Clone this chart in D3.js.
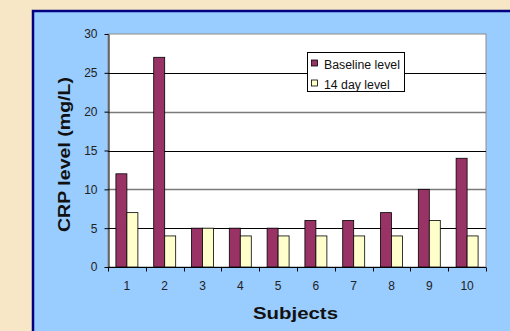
<!DOCTYPE html>
<html>
<head>
<meta charset="utf-8">
<script src="https://cdn.jsdelivr.net/npm/d3@7"></script>
<style>
  html, body { margin: 0; padding: 0; background: #f7e7c6; }
  svg { display: block; }
</style>
</head>
<body>
<svg id="chart" width="510" height="331"></svg>
<script>
// CRP levels per subject, at baseline and after 14 days
const subjects = ["1", "2", "3", "4", "5", "6", "7", "8", "9", "10"];
const baselineLevel = [12, 27, 5, 5, 5, 6, 6, 7, 10, 14];
const day14Level = [7, 4, 5, 4, 4, 4, 4, 4, 6, 4];
const seriesNames = ["Baseline level", "14 day level"];
const seriesColors = ["#993366", "#ffffcc"];
const yTicks = [0, 5, 10, 15, 20, 25, 30];

const FONT = "Liberation Sans, Arial, sans-serif";
const svg = d3.select("#chart");
const W = 510, H = 331;

// page and chart panel
svg.append("rect").attr("width", W).attr("height", H).attr("fill", "#f7e7c6");
svg.append("rect").attr("x", 33).attr("y", 11).attr("width", W).attr("height", H)
  .attr("fill", "#99ccff").attr("stroke", "#000080").attr("stroke-width", 2.5);

const plot = { left: 108, top: 34, right: 486, bottom: 267 };

const x0 = d3.scaleBand().domain(subjects).range([plot.left, plot.right]).paddingInner(0).paddingOuter(0);
const x1 = d3.scaleBand().domain([0, 1]).range([0, x0.bandwidth()]).paddingInner(0).paddingOuter(0.72);
const y = d3.scaleLinear().domain([0, 30]).range([plot.bottom, plot.top]);

// plot area
svg.append("rect")
  .attr("x", plot.left).attr("y", plot.top)
  .attr("width", plot.right - plot.left).attr("height", plot.bottom - plot.top)
  .attr("fill", "#ffffff").attr("stroke", "#8c8c8c").attr("stroke-width", 1);

// gridlines (the 10 and 20 lines print softer)
svg.append("g").selectAll("line").data(yTicks.filter(d => d > 0 && d < 30)).join("line")
  .attr("x1", plot.left).attr("x2", plot.right)
  .attr("y1", d => Math.round(y(d)) + 0.5).attr("y2", d => Math.round(y(d)) + 0.5)
  .attr("stroke", d => d % 10 === 0 ? "#7a7a7a" : "#000")
  .attr("stroke-width", d => d % 10 === 0 ? 1.6 : 1);

// bars
const series = [baselineLevel, day14Level];
const groups = svg.append("g").selectAll("g").data(subjects).join("g")
  .attr("transform", d => `translate(${x0(d)},0)`);
groups.selectAll("rect").data((d, i) => series.map((s, k) => ({ k, v: s[i] }))).join("rect")
  .attr("x", d => x1(d.k))
  .attr("y", d => y(d.v))
  .attr("width", x1.bandwidth())
  .attr("height", d => y(0) - y(d.v))
  .attr("fill", d => seriesColors[d.k])
  .attr("stroke", "#000").attr("stroke-width", 0.8);

// y axis
const yAxis = svg.append("g").attr("transform", `translate(${plot.left + 0.5},0)`)
  .call(d3.axisLeft(y).tickValues(yTicks).tickSize(4).tickSizeOuter(0).tickPadding(7));
yAxis.select(".domain").attr("stroke", "#000");
yAxis.selectAll("text").attr("font-family", FONT)
  .attr("font-size", 12).attr("fill", "#222");

// x axis with ticks between categories
const xAxisG = svg.append("g").attr("transform", `translate(0,${plot.bottom + 0.5})`);
xAxisG.append("line").attr("x1", plot.left).attr("x2", plot.right).attr("stroke", "#000");
const bounds = subjects.map(d => x0(d)).concat([plot.right]);
xAxisG.selectAll("line.tk").data(bounds).join("line").attr("class", "tk")
  .attr("x1", d => Math.round(d) + 0.5).attr("x2", d => Math.round(d) + 0.5)
  .attr("y1", 0).attr("y2", 4).attr("stroke", "#000");
xAxisG.selectAll("text").data(subjects).join("text")
  .attr("x", d => x0(d) + x0.bandwidth() / 2).attr("y", 22.5)
  .attr("text-anchor", "middle")
  .attr("font-family", FONT)
  .attr("font-size", 12).attr("fill", "#222")
  .text(d => d);

// axis titles (wide bold lettering)
svg.append("text").attr("x", 295.5).attr("y", 319)
  .attr("text-anchor", "middle")
  .attr("font-family", FONT)
  .attr("font-size", 16).attr("font-weight", "bold").attr("fill", "#111")
  .attr("textLength", 85).attr("lengthAdjust", "spacingAndGlyphs")
  .text("Subjects");
svg.append("text")
  .attr("transform", `translate(70,154.5) rotate(-90)`)
  .attr("text-anchor", "middle")
  .attr("font-family", FONT)
  .attr("font-size", 16).attr("font-weight", "bold").attr("fill", "#111")
  .attr("textLength", 155).attr("lengthAdjust", "spacingAndGlyphs")
  .text("CRP level (mg/L)");

// legend
const legend = svg.append("g").attr("transform", "translate(307,52)");
legend.append("rect").attr("x", 0.5).attr("y", 0.5).attr("width", 97).attr("height", 39)
  .attr("fill", "#fff").attr("stroke", "#000");
seriesNames.forEach((name, i) => {
  const yy = 12 + i * 20;
  legend.append("rect").attr("x", 4.5).attr("y", yy - 4).attr("width", 6).attr("height", 6)
    .attr("fill", seriesColors[i]).attr("stroke", "#000").attr("stroke-width", 0.8);
  legend.append("text").attr("x", 17).attr("y", yy + 4.5)
    .attr("font-family", FONT)
    .attr("font-size", 12.3).attr("fill", "#111")
    .text(name);
});
</script>
</body>
</html>
